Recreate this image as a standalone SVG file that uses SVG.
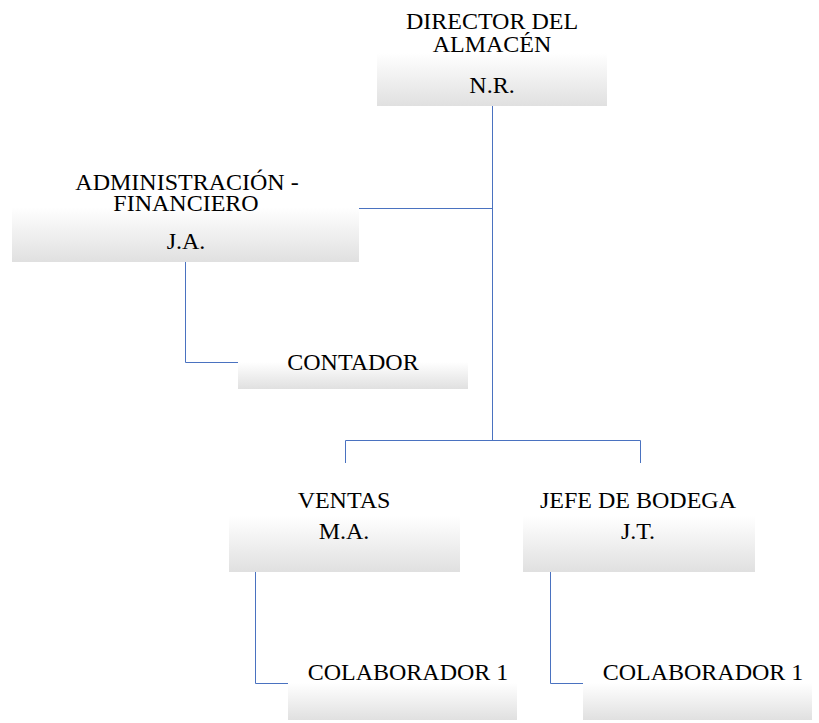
<svg xmlns="http://www.w3.org/2000/svg" width="819" height="723" viewBox="0 0 819 723">
<defs>
<linearGradient id="g" x1="0" y1="0" x2="0" y2="1">
<stop offset="0" stop-color="#ffffff"/>
<stop offset="1" stop-color="#e0e0e0"/>
</linearGradient>
<style>
.box{fill:url(#g);}
.t{font-family:"Liberation Serif","Times New Roman",serif;font-size:24px;fill:#000;text-anchor:middle;}
.c{fill:none;stroke:#4a72c0;stroke-width:1;}
</style>
</defs>
<rect width="819" height="723" fill="#fff"/>
<g id="connectors">
<path class="c" d="M492.5 106V440.5"/>
<path class="c" d="M359 208.5H492.5"/>
<path class="c" d="M185.5 262V362.5H238"/>
<path class="c" d="M345.5 463V440.5H640.5V463"/>
<path class="c" d="M255.5 572V683.5H288"/>
<path class="c" d="M550.5 572V683.5H583"/>
</g>
<g id="director">
<rect class="box" x="377" y="53" width="230" height="53"/>
<text class="t" x="492" y="29">DIRECTOR DEL</text>
<text class="t" x="492" y="52">ALMACÉN</text>
<text class="t" x="492" y="93">N.R.</text>
</g>
<g id="admin">
<rect class="box" x="12" y="207" width="347" height="55"/>
<text class="t" x="187" y="190">ADMINISTRACIÓN -</text>
<text class="t" x="186" y="211">FINANCIERO</text>
<text class="t" x="186" y="249">J.A.</text>
</g>
<g id="contador">
<rect class="box" x="238" y="362" width="230" height="27"/>
<text class="t" x="353" y="370">CONTADOR</text>
</g>
<g id="ventas">
<rect class="box" x="229" y="516" width="231" height="56"/>
<text class="t" x="344" y="508">VENTAS</text>
<text class="t" x="344" y="539">M.A.</text>
</g>
<g id="bodega">
<rect class="box" x="523" y="516" width="232" height="56"/>
<text class="t" x="638" y="508">JEFE DE BODEGA</text>
<text class="t" x="638" y="539">J.T.</text>
</g>
<g id="colab1">
<rect class="box" x="288" y="683" width="229" height="37"/>
<text class="t" x="408" y="680">COLABORADOR 1</text>
</g>
<g id="colab2">
<rect class="box" x="583" y="683" width="229" height="37"/>
<text class="t" x="703" y="680">COLABORADOR 1</text>
</g>
</svg>
